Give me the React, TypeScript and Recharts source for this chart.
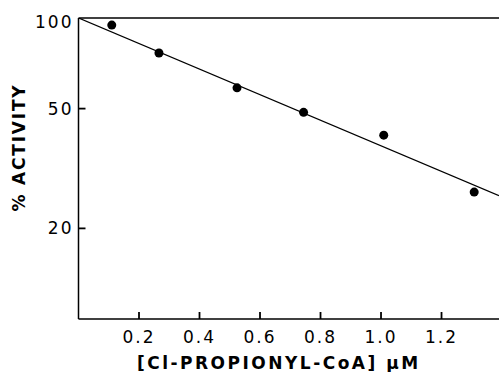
import { ScatterChart, Scatter, XAxis, YAxis, ReferenceLine } from "recharts";

// measured points: [Cl-propionyl-CoA] (uM) vs % activity
const concentrations = [0.11, 0.266, 0.524, 0.744, 1.009, 1.308];
const activity = [94.7, 76.5, 58.6, 48.6, 40.8, 26.4];

// fitted line endpoints
const fitX = [0, 1.39];
const fitY = [100, 25.7];

const xTicks = [0.2, 0.4, 0.6, 0.8, 1.0, 1.2];
const yTicks = [20, 50, 100];

const points = concentrations.map((c, i) => ({ x: c, y: activity[i] }));
const fitLine = fitX.map((x, i) => ({ x, y: fitY[i] }));

const font = "'DejaVu Sans', sans-serif";
const X_MARGIN = 10;
const Y_MARGIN = 5;

// ticks point inward, so they are drawn here next to the label
const XTick = (props: any) => {
  const { x, y, payload } = props;
  return (
    <g>
      <line x1={x} x2={x} y1={y - X_MARGIN} y2={y - X_MARGIN - 7} stroke="#000" strokeWidth={1.8} />
      <text x={x} y={y} dy={14} textAnchor="middle" fontFamily={font} fontSize={17} letterSpacing={2} fill="#000">
        {payload.value.toFixed(1)}
      </text>
    </g>
  );
};

const YTick = (props: any) => {
  const { x, y, payload } = props;
  const dy = payload.value === 100 ? 10 : 6;
  return (
    <g>
      {payload.value !== 100 && (
        <line x1={x + Y_MARGIN} x2={x + Y_MARGIN + 7} y1={y} y2={y} stroke="#000" strokeWidth={1.8} />
      )}
      <text x={x} y={y} dy={dy} textAnchor="end" fontFamily={font} fontSize={17} letterSpacing={2} fill="#000">
        {payload.value}
      </text>
    </g>
  );
};

export default function App() {
  return (
    <div style={{ position: "absolute", left: 0, top: 0, background: "#fff" }}>
      <ScatterChart width={499} height={372} margin={{ top: 18, right: 0, left: 0, bottom: 0 }}>
        <XAxis
          type="number"
          dataKey="x"
          domain={[0, 1.39]}
          ticks={xTicks}
          allowDataOverflow
          height={53}
          tickSize={0}
          tickMargin={X_MARGIN}
          tickLine={false}
          axisLine={{ stroke: "#000", strokeWidth: 1.5 }}
          tick={<XTick />}
          label={{
            value: "[Cl-PROPIONYL-CoA] μM",
            position: "insideBottom",
            offset: 3,
            dx: -10,
            fill: "#000",
            fontFamily: font,
            fontSize: 17,
            fontWeight: "bold",
            letterSpacing: 2.5,
          }}
        />
        <YAxis
          type="number"
          dataKey="y"
          scale="log"
          domain={[10, 100]}
          ticks={yTicks}
          allowDataOverflow
          width={78.5}
          tickSize={0}
          tickMargin={Y_MARGIN}
          tickLine={false}
          axisLine={{ stroke: "#000", strokeWidth: 1.5 }}
          tick={<YTick />}
          label={{
            value: "% ACTIVITY",
            angle: -90,
            position: "insideLeft",
            offset: 19,
            dy: 43,
            fill: "#000",
            fontFamily: font,
            fontSize: 17,
            fontWeight: "bold",
            letterSpacing: 1.8,
          }}
        />
        <ReferenceLine y={100} stroke="#000" strokeWidth={1.5} ifOverflow="extendDomain" />
        <Scatter
          data={fitLine}
          line={{ stroke: "#000", strokeWidth: 1.3 }}
          shape={() => <g />}
          isAnimationActive={false}
        />
        <Scatter data={points} fill="#000" shape={(p: any) => <circle cx={p.cx} cy={p.cy} r={4.5} fill="#000" />} isAnimationActive={false} />
      </ScatterChart>
    </div>
  );
}
